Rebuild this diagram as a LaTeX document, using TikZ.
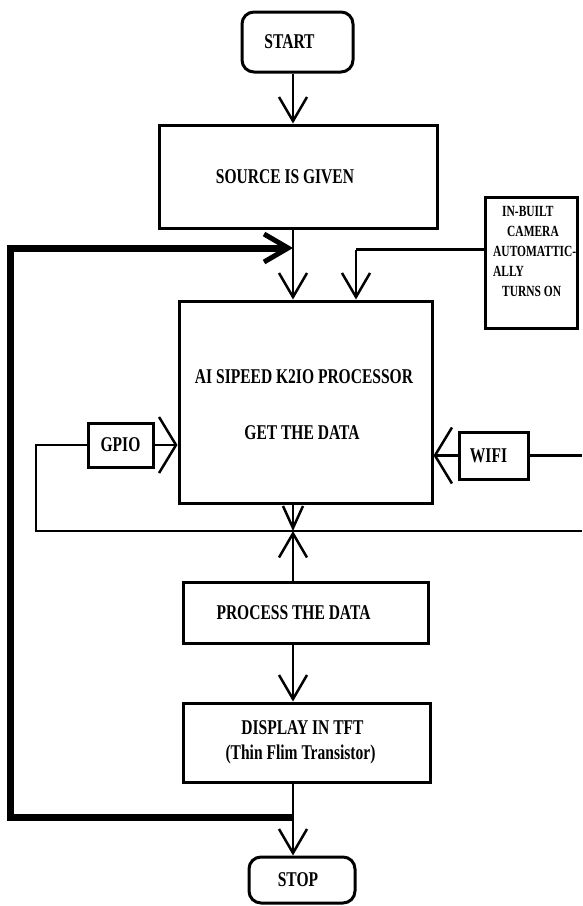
\documentclass[tikz,border=0pt]{standalone}
\usepackage{fontspec}
\setmainfont{Liberation Serif}[FakeStretch=0.74]
\usetikzlibrary{arrows.meta}
\tikzset{
 box/.style={draw, line width=3pt, inner sep=0pt, font=\bfseries\fontsize{21}{25}\selectfont, align=center},
 term/.style={box, rounded corners=12pt},
 conn/.style={line width=2.5pt},
 arr/.style={conn, -{Straight Barb[length=24pt,width=28pt]}},
 arrsmall/.style={conn, -{Straight Barb[length=22pt,width=20pt]}},
 widearr/.style={conn, -{Straight Barb[length=17pt,width=56pt]}},
 fb/.style={line width=7pt, -{Straight Barb[length=24pt,width=28pt,line width=5pt]}},
 camtxt/.style={font=\bfseries\fontsize{15.5}{20}\selectfont, align=left, inner sep=0pt, anchor=north west},
}
\begin{document}
\begin{tikzpicture}[x=1pt,y=-1pt]
\useasboundingbox[fill=white] (0,0) rectangle (582,906);

% nodes
\node[term, minimum width=111, minimum height=60] (start) at (297.5,42) {START\hspace*{16pt}};
\node[box, minimum width=278, minimum height=103] (source) at (298,176.5) {SOURCE IS GIVEN\hspace*{26pt}};
\node[box, minimum width=253, minimum height=202] (proc) at (305.5,402) {};
\node[font=\bfseries\fontsize{21}{25}\selectfont, inner sep=0pt] (proct1) at (304,377) {AI SIPEED K2IO PROCESSOR};
\node[font=\bfseries\fontsize{21}{25}\selectfont, inner sep=0pt] (proct2) at (302,433) {GET THE DATA};
\node[box, minimum width=92, minimum height=131] (cam) at (531,262.5) {};
\node[camtxt] (camtext) at (493,206) {\hspace*{9pt}IN-BUILT\\\hspace*{14pt}CAMERA\\AUTOMATTIC-\\ALLY\\\hspace*{9pt}TURNS ON};
\node[box, minimum width=65, minimum height=44] (gpio) at (120.5,445) {GPIO};
\node[box, minimum width=69, minimum height=47] (wifi) at (493.5,455.5) {WIFI\hspace*{10pt}};
\node[box, minimum width=245, minimum height=61] (process) at (305.5,612.5) {PROCESS THE DATA\hspace*{24pt}};
\node[box, minimum width=247, minimum height=79, font=\bfseries\fontsize{21}{25}\selectfont] (display) at (306.5,742.5) {DISPLAY IN TFT\hspace*{8pt}\\(Thin Flim Transistor)\hspace*{12pt}};
\node[term, minimum width=106, minimum height=46] (stop) at (302,880) {STOP\hspace*{8pt}};

% coordinates
\coordinate (col) at (293,0);
\coordinate (fbtop) at (293,248);
\coordinate (fblefttop) at (10,248);
\coordinate (fbleftbot) at (10,817);
\coordinate (fbbot) at (293,817);
\coordinate (camturn) at (356,249.5);
\coordinate (gpioturn) at (36,445);
\coordinate (busL) at (36,531);
\coordinate (busR) at (582,531);
\coordinate (cross) at (293,531);
\coordinate (wifiR) at (582,455.5);

% connectors
\draw[arr] (start.south -| col) -- (source.north -| col);
\draw[arr] (source.south -| col) -- (proc.north -| col);
\draw[conn] (cam.west |- camturn) -- (camturn);
\draw[arr] (camturn) -- (proc.north -| camturn);
\draw[widearr] (gpio.east) -- (proc.west |- gpio.east);
\draw[widearr] (wifi.west) -- (proc.east |- wifi.west);
\draw[conn] (gpio.west) -- (gpioturn) -- (busL) -- (busR);
\draw[conn] (wifi.east) -- (wifiR);
\draw[arrsmall] (proc.south -| col) -- (cross);
\draw[arr] (process.north -| col) -- (cross);
\draw[arr] (process.south -| col) -- (display.north -| col);
\draw[arr] (display.south -| col) -- (stop.north -| col);
\draw[fb] (fbbot) -- (fbleftbot) -- (fblefttop) -- (fbtop);
\end{tikzpicture}
\end{document}
